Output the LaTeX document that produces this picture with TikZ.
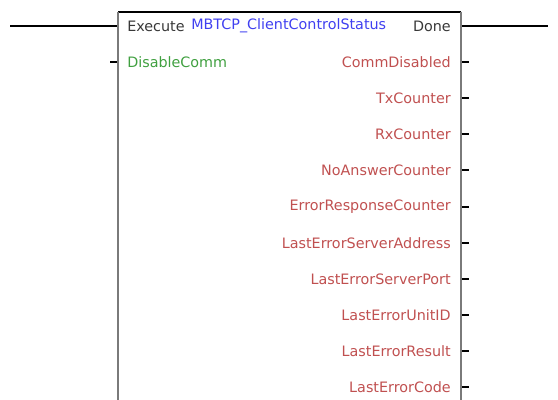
\documentclass[tikz,border=0pt]{standalone}
\usepackage{fontspec}
\setmainfont{DejaVu Sans}
\definecolor{fbblue}{HTML}{4040F0}
\definecolor{fbgreen}{HTML}{40A040}
\definecolor{fbred}{HTML}{C05050}
\definecolor{fbtext}{HTML}{383838}
\definecolor{fbedge}{HTML}{7A7A7A}
\begin{document}
\begin{tikzpicture}[x=0.75pt,y=-0.75pt,
  lbl/.style={inner sep=0pt,font=\fontsize{10.75pt}{12pt}\selectfont},
  outlbl/.style={lbl,anchor=east,text=fbred},
  pin/.style={draw=black,line width=0.8pt},
  side/.style={draw=fbedge,line width=2.2pt}]
\useasboundingbox (0,0) rectangle (558,400);
% box
\draw[black,line width=0.8pt] (118,12) -- (461,12);
\draw[side] (118,11.5) -- (118,400);
\draw[side] (461,11.5) -- (461,400);
% inputs
\node[lbl,anchor=west,text=fbtext] (exec) at (127,26) {Execute};
\node[lbl,anchor=west,text=fbblue] (name) at (191,26) {MBTCP\_ClientControlStatus};
\node[lbl,anchor=west,text=fbgreen] (dis) at (127,62) {DisableComm};
\coordinate (execL) at (10,26);
\coordinate (execR) at (117,26);
\coordinate (disL) at (110,62);
\coordinate (disR) at (117,62);
\draw[pin] (execL) -- (execR);
\draw[pin] (disL) -- (disR);
% outputs
\node[lbl,anchor=east,text=fbtext] (done) at (451,26) {Done};
\coordinate (doneL) at (462,26);
\coordinate (doneR) at (548,26);
\draw[pin] (doneL) -- (doneR);
\foreach \t/\y [count=\i] in {CommDisabled/62,TxCounter/98,RxCounter/134,NoAnswerCounter/170,ErrorResponseCounter/207,LastErrorServerAddress/243,LastErrorServerPort/279,LastErrorUnitID/315,LastErrorResult/351,LastErrorCode/387}{
  \node[outlbl] (o\i) at (451,\y) {\t};
  \coordinate (p\i a) at (462,\y);
  \coordinate (p\i b) at (469,\y);
  \draw[pin] (p\i a) -- (p\i b);
}
\end{tikzpicture}
\end{document}
